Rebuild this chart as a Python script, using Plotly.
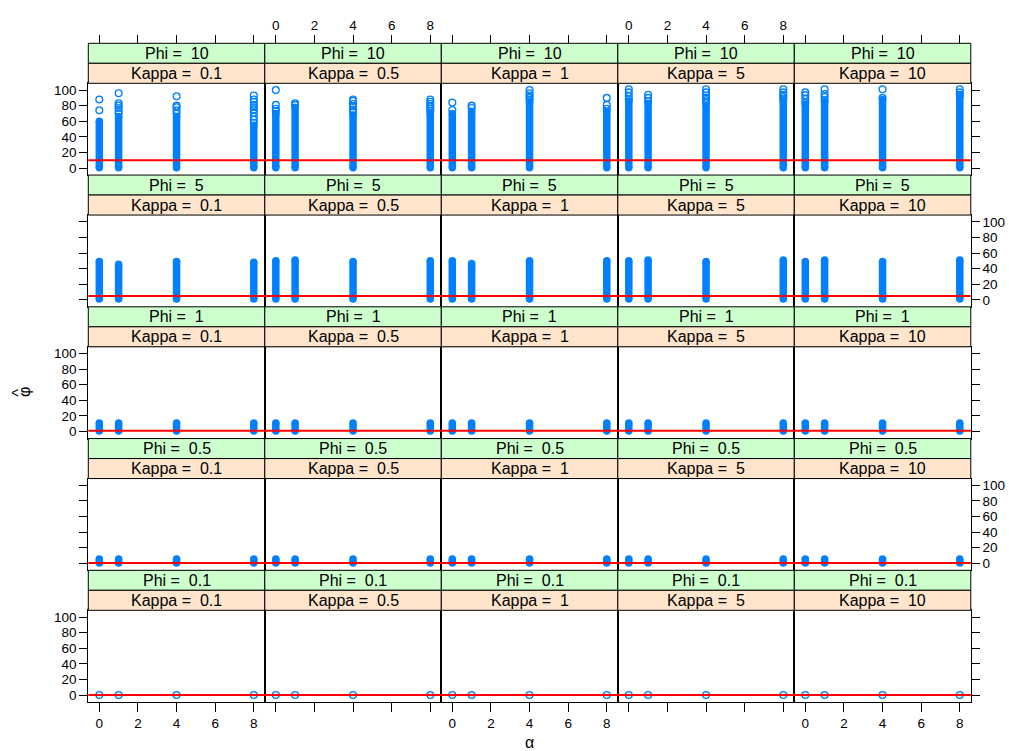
import plotly.graph_objects as go

# ---------------- data ----------------
PHI = [10, 5, 1, 0.5, 0.1]            # rows, top to bottom
KAPPA = [0.1, 0.5, 1, 5, 10]          # columns, left to right
ALPHA = [0, 1, 4, 8]                  # x positions of simulated groups
X_TICKS = [0, 2, 4, 6, 8]
Y_TICKS = [0, 20, 40, 60, 80, 100]

# bottom of the dense (overlapping) part of each column, per Phi row
dense_low = [0.3, 1.0, 0.6, 0.3, None]

# top of the dense part, [kappa][alpha]
dense_top_phi10 = [[60, 66, 66, 55], [70, 78, 68, 70], [70, 73, 84, 73], [86, 83, 80, 86], [82, 85, 88, 92]]
dense_top_phi5 = [[49, 45.5, 49, 48], [50, 51, 49, 50], [50, 46.5, 50, 50], [50, 51, 49, 51], [49, 51, 49, 51]]
dense_top_phi1 = [[11, 11, 11, 11], [11, 11, 11, 11], [11, 11, 11, 11], [11, 11, 11, 11], [11, 11, 11, 11]]
dense_top_phi05 = [[5.5, 5.5, 5.5, 5.5], [5.5, 5.5, 5.5, 5.5], [5.5, 5.5, 5.5, 5.5], [5.5, 5.5, 5.5, 5.5], [5.5, 5.5, 5.5, 5.5]]
dense_top_phi01 = [[None] * 4 for _ in range(5)]

# isolated estimates above the dense part, [kappa][alpha]
outliers_phi10 = [
    [[74, 88], [70, 73, 77, 80, 83, 96], [70, 74, 78, 80, 92], [58, 62, 66, 71, 75, 78, 81, 85, 88, 93]],
    [[73, 76, 81, 100], [81, 83], [72, 75, 79, 82, 86, 88], [73, 76, 79, 82, 85, 88]],
    [[74.5, 84], [77, 80], [87, 90, 93, 96, 100], [76, 81, 90]],
    [[88, 92, 97, 101], [86, 90, 94], [84, 87, 90, 93, 97, 101], [88, 91, 94, 97, 101]],
    [[84, 89, 93.5, 97], [87, 91, 95, 101], [90, 101], [94, 97, 101]],
]
outliers_phi5 = [[[] for _ in range(4)] for _ in range(5)]
outliers_phi1 = [[[] for _ in range(4)] for _ in range(5)]
outliers_phi05 = [[[] for _ in range(4)] for _ in range(5)]
outliers_phi01 = [[[0.1], [0.1], [0.1], [0.1]] for _ in range(5)]

dense_top = [dense_top_phi10, dense_top_phi5, dense_top_phi1, dense_top_phi05, dense_top_phi01]
outliers = [outliers_phi10, outliers_phi5, outliers_phi1, outliers_phi05, outliers_phi01]

# ---------------- layout geometry (pixels) ----------------
OFF = 0                       # body margin removed in the page (see post_script)
W, H = 1009, 751
L0, CW = 88.3 - OFF, 176.5
T0, RH, SH, PH = 43.3 - OFF, 131.75, 20.0, 91.75
X_RANGE = [-0.57, 8.57]
Y_RANGE = [-9, 108.7]

BLUE = "#0080FF"
FONT = "Liberation Sans, Arial, Helvetica, sans-serif"
STRIP_PHI = "#CCFFCC"
STRIP_KAPPA = "#FFE5CC"


def xdom(c):
    return [(L0 + CW * c) / W, (L0 + CW * (c + 1)) / W]


def ydom(r):
    top = T0 + RH * r + 2 * SH
    bot = top + PH
    return [1 - bot / H, 1 - top / H]


def aid(n):
    return "" if n == 1 else str(n)


def fmt(v):
    return ("%g" % v)


TICKFONT = dict(family=FONT, size=13.5, color="black")

fig = go.Figure()
layout = {}
shapes = []
annotations = []

for r in range(5):
    for c in range(5):
        n = r * 5 + c + 1
        s = aid(n)
        layout["xaxis" + s] = dict(
            domain=xdom(c), anchor="y" + s, range=X_RANGE,
            tickvals=X_TICKS, ticktext=[str(t) for t in X_TICKS],
            ticks="outside" if r == 4 else "", ticklen=9, tickwidth=1, tickcolor="black",
            showticklabels=(r == 4 and c in (0, 2, 4)),
            showline=True, linecolor="black", linewidth=1, mirror=True,
            showgrid=False, zeroline=False, tickfont=TICKFONT,
        )
        layout["yaxis" + s] = dict(
            domain=ydom(r), anchor="x" + s, range=Y_RANGE,
            tickvals=Y_TICKS, ticktext=[str(t) for t in Y_TICKS],
            ticks="outside" if c == 0 else "", ticklen=8, tickwidth=1, tickcolor="black",
            showticklabels=(c == 0 and r in (0, 2, 4)),
            showline=True, linecolor="black", linewidth=1, mirror=True,
            showgrid=False, zeroline=False, tickfont=TICKFONT,
        )

        # data columns
        for k, a in enumerate(ALPHA):
            hi = dense_top[r][c][k]
            lo = dense_low[r]
            if hi is not None:
                fig.add_trace(go.Scatter(
                    x=[a, a], y=[lo, hi], mode="lines+markers",
                    line=dict(color=BLUE, width=7.5),
                    marker=dict(symbol="circle", size=7.5, color=BLUE, line=dict(width=0)),
                    xaxis="x" + s, yaxis="y" + s, showlegend=False, hoverinfo="skip",
                ))
            pts = outliers[r][c][k]
            if pts:
                fig.add_trace(go.Scatter(
                    x=[a] * len(pts), y=pts, mode="markers",
                    marker=dict(symbol="circle-open", size=6.8, color=BLUE, line=dict(width=1.3, color=BLUE)),
                    xaxis="x" + s, yaxis="y" + s, showlegend=False, hoverinfo="skip",
                ))

        # reference line at the true Phi
        shapes.append(dict(
            type="line", xref="x" + s + " domain", yref="y" + s,
            x0=0, x1=1, y0=PHI[r], y1=PHI[r],
            line=dict(color="#FF0000", width=2), layer="above",
        ))

        # strips
        xd = xdom(c)
        ytop = T0 + RH * r
        for j, (label, fill) in enumerate([("Phi = \u00a0" + fmt(PHI[r]), STRIP_PHI),
                                           ("Kappa = \u00a0" + fmt(KAPPA[c]), STRIP_KAPPA)]):
            y1 = 1 - (ytop + SH * j) / H
            y0 = 1 - (ytop + SH * (j + 1)) / H
            shapes.append(dict(
                type="rect", xref="paper", yref="paper",
                x0=xd[0], x1=xd[1], y0=y0, y1=y1,
                fillcolor=fill, line=dict(color="black", width=1), layer="above",
            ))
            annotations.append(dict(
                xref="paper", yref="paper", x=(xd[0] + xd[1]) / 2, y=(y0 + y1) / 2,
                text=label, showarrow=False, xanchor="center", yanchor="middle",
                font=dict(family=FONT, size=16, color="black"),
            ))

# alternating outer axes: top x ticks and right y ticks
for c in range(5):
    n2 = 26 + c
    base = aid(c + 1)
    layout["xaxis%d" % n2] = dict(
        overlaying="x" + base, side="top", anchor="free", position=1 - T0 / H,
        range=X_RANGE, tickvals=X_TICKS, ticktext=[str(t) for t in X_TICKS],
        ticks="outside", ticklen=8, tickwidth=1, tickcolor="black",
        showticklabels=(c in (1, 3)), showline=False, showgrid=False, zeroline=False,
        tickfont=TICKFONT,
    )
    fig.add_trace(go.Scatter(x=[None], y=[None], xaxis="x%d" % n2, yaxis="y" + base,
                             showlegend=False, hoverinfo="skip"))

for r in range(5):
    n2 = 26 + r
    base = aid(r * 5 + 5)
    layout["yaxis%d" % n2] = dict(
        overlaying="y" + base, side="right", anchor="x" + base,
        range=Y_RANGE, tickvals=Y_TICKS, ticktext=[str(t) for t in Y_TICKS],
        ticks="outside", ticklen=8, tickwidth=1, tickcolor="black",
        showticklabels=(r in (1, 3)), showline=False, showgrid=False, zeroline=False,
        tickfont=TICKFONT,
    )
    fig.add_trace(go.Scatter(x=[None], y=[None], xaxis="x" + base, yaxis="y%d" % n2,
                             showlegend=False, hoverinfo="skip"))

# axis titles (phi-hat: phi with a circumflex, rotated like an R ylab)
annotations.append(dict(
    xref="paper", yref="paper", x=(24 - OFF) / W, y=1 - (392 - OFF) / H, text="\u03c6",
    textangle=-90, showarrow=False, xanchor="center", yanchor="middle",
    font=dict(family=FONT, size=16, color="black"),
))
annotations.append(dict(
    xref="paper", yref="paper", x=(18.5 - OFF) / W, y=1 - (393 - OFF) / H, text="^",
    textangle=-90, showarrow=False, xanchor="center", yanchor="middle",
    font=dict(family=FONT, size=16, color="black"),
))
annotations.append(dict(
    xref="paper", yref="paper", x=(529.5 - OFF) / W, y=0, text="\u03b1",
    showarrow=False, xanchor="center", yanchor="bottom", yshift=-2,
    font=dict(family=FONT, size=16, color="black"),
))

fig.update_layout(
    width=W, height=H, margin=dict(l=0, r=0, t=0, b=0),
    paper_bgcolor="white", plot_bgcolor="white",
    showlegend=False, shapes=shapes, annotations=annotations,
    **layout,
)

fig.write_html("out.html", config={"displayModeBar": False},
               post_script="document.body.style.margin='0';document.body.style.overflow='hidden';")
